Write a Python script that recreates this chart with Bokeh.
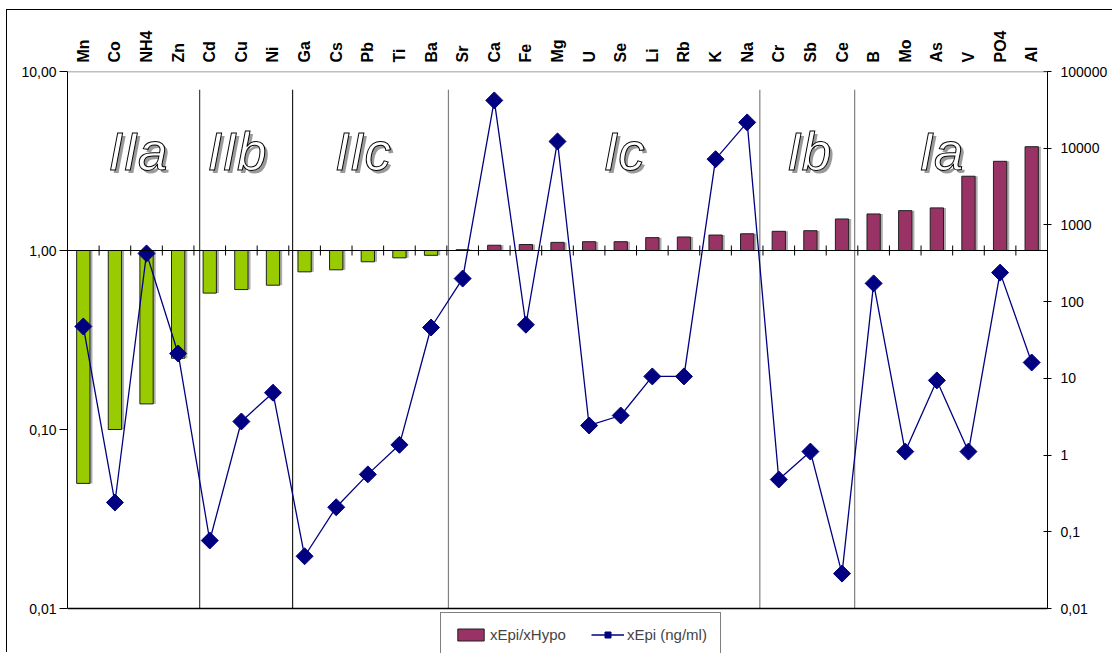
import math
from bokeh.plotting import figure
from bokeh.models import (Range1d, LogAxis, FixedTicker, LogScale, Span, Legend,
                          LegendItem, ColumnDataSource)
from bokeh.core.properties import value
from bokeh.embed import file_html
from bokeh.resources import INLINE

# ---------------- data ----------------
elements = ["Mn", "Co", "NH4", "Zn", "Cd", "Cu", "Ni", "Ga", "Cs", "Pb", "Ti", "Ba",
            "Sr", "Ca", "Fe", "Mg", "U", "Se", "Li", "Rb", "K", "Na", "Cr", "Sb", "Ce",
            "B", "Mo", "As", "V", "PO4", "Al"]
ratio_epi_hypo = [0.05, 0.10, 0.139, 0.25, 0.578, 0.605, 0.64, 0.76, 0.78, 0.865, 0.91, 0.94,
                  1.01, 1.07, 1.08, 1.11, 1.12, 1.12, 1.18, 1.19, 1.22, 1.24, 1.28, 1.29, 1.50,
                  1.60, 1.67, 1.73, 2.6, 3.15, 3.8]
epi_ng_ml = [47.5, 0.241, 425, 21.1, 0.077, 2.74, 6.5, 0.048, 0.209, 0.56, 1.36, 46,
             200, 42000, 50, 12250, 2.43, 3.28, 10.6, 10.6, 7200, 21700, 0.48, 1.11, 0.0285,
             173, 1.11, 9.4, 1.11, 239, 16.1]
groups = ["IIa", "IIb", "IIc", "Ic", "Ib", "Ia"]
group_sizes = [4, 3, 5, 10, 3, 6]

left_ticks = [0.01, 0.1, 1, 10]
left_labels = ["0,01", "0,10", "1,00", "10,00"]
right_ticks = [0.01, 0.1, 1, 10, 100, 1000, 10000, 100000]
right_labels = ["0,01", "0,1", "1", "10", "100", "1000", "10000", "100000"]

# ---------------- layout constants (annotation placement) ----------------
divider_pos = [4.18, 7.12, 12.05, 21.9, 24.9]
divider_col = ["#404040", "#202020", "#808080", "#808080", "#808080"]
group_label_x = [2.23, 5.36, 9.35, 17.61, 23.46, 27.64]
FONT = "Liberation Sans"
PX_PER_DEC_L = 179.0      # left axis pixels per decade
PX_PER_DEC_R = 537.0 / 7  # right axis pixels per decade
LEGEND_SPACE = 45         # px below the value axis kept for the legend

n = len(elements)
xc = [i + 0.5 for i in range(n)]
GREEN, MAROON, NAVY = "#99CC00", "#993366", "#000080"
colors = [GREEN if r < 1 else MAROON for r in ratio_epi_hypo]

src = ColumnDataSource(dict(x=xc, top=ratio_epi_hypo, color=colors, epi=epi_ng_ml))

ymin_l = left_ticks[0] * 10 ** (-LEGEND_SPACE / PX_PER_DEC_L)
ymin_r = right_ticks[0] * 10 ** (-LEGEND_SPACE / PX_PER_DEC_R)

p = figure(width=1106, height=643, x_range=Range1d(0, n), y_range=Range1d(ymin_l, left_ticks[-1]),
           y_axis_type="log", x_axis_location="above", output_backend="svg",
           toolbar_location=None, min_border_left=60, min_border_right=66,
           min_border_top=61, min_border_bottom=0)
p.styles = {"margin-left": "6px", "margin-top": "9px",
            "border-left": "1px solid black", "border-top": "1px solid black"}
p.xgrid.visible = False
p.ygrid.visible = False
p.outline_line_color = None
p.background_fill_color = "white"
p.border_fill_color = "white"

# top category axis
xa = p.xaxis[0]
xa.ticker = FixedTicker(ticks=xc)
xa.major_label_overrides = {x: e for x, e in zip(xc, elements)}
xa.major_label_orientation = "vertical"
xa.axis_line_color = None
xa.major_tick_line_color = None
xa.minor_tick_line_color = None
xa.major_tick_out = 0
xa.major_tick_in = 0
xa.major_label_standoff = 9
xa.major_label_text_font = FONT
xa.major_label_text_font_style = "bold"
xa.major_label_text_font_size = "16px"
xa.major_label_text_color = "black"

# left axis
ya = p.yaxis[0]
ya.ticker = FixedTicker(ticks=left_ticks)
ya.bounds = (left_ticks[0], left_ticks[-1])
ya.major_label_overrides = {t: l for t, l in zip(left_ticks, left_labels)}
ya.minor_tick_line_color = None
ya.major_tick_in = 0
ya.major_tick_out = 8
ya.major_label_standoff = 3
ya.axis_line_color = "black"
ya.major_tick_line_color = "black"
ya.major_label_text_font = FONT
ya.major_label_text_font_size = "14px"
ya.major_label_text_color = "black"

# right axis
p.extra_y_ranges = {"r": Range1d(ymin_r, right_ticks[-1])}
p.extra_y_scales = {"r": LogScale()}
ra = LogAxis(y_range_name="r", ticker=FixedTicker(ticks=right_ticks))
ra.bounds = (right_ticks[0], right_ticks[-1])
ra.major_label_overrides = {t: l for t, l in zip(right_ticks, right_labels)}
ra.minor_tick_line_color = None
ra.major_tick_in = 4
ra.major_tick_out = 4
ra.major_label_standoff = 9
ra.axis_line_color = "black"
ra.major_tick_line_color = "black"
ra.major_label_text_font = FONT
ra.major_label_text_font_size = "14px"
ra.major_label_text_color = "black"
p.add_layout(ra, "right")

# plot-area top and bottom edges
p.add_layout(Span(location=left_ticks[-1], dimension="width", line_color="#808080", line_width=1.5))
p.add_layout(Span(location=left_ticks[0], dimension="width", line_color="black", line_width=1.5))

# group dividers
p.segment(x0=divider_pos, y0=[left_ticks[0]] * len(divider_pos), x1=divider_pos,
          y1=[7.9] * len(divider_pos), line_color=divider_col, line_width=1.2)

# bars (shadow + bars)
p.vbar(x=[x + 0.08 for x in xc], width=0.42, bottom=1, top=ratio_epi_hypo,
       fill_color="#9a9a9a", line_color=None, fill_alpha=0.8)
bars = p.vbar(x="x", width=0.42, bottom=1, top="top", fill_color="color",
              line_color="#202020", line_width=1, source=src)

# category axis line at 1 with crossing ticks
p.add_layout(Span(location=1, dimension="width", line_color="black", line_width=1))
bounds = list(range(1, n))
tk = 10 ** (5 / PX_PER_DEC_L)
p.segment(x0=bounds, y0=[1 / tk] * len(bounds), x1=bounds, y1=[tk] * len(bounds),
          line_color="black", line_width=1)

# group labels
gy = [3.56] * len(groups)
p.text(x=group_label_x, y=gy, text=groups, text_font=value(FONT), text_font_style="italic",
       text_font_size="53px", text_align="center", text_baseline="alphabetic",
       text_color="#9a9a9a", x_offset=3, y_offset=3)
p.text(x=group_label_x, y=gy, text=groups, text_font=value(FONT), text_font_style="italic",
       text_font_size="53px", text_align="center", text_baseline="alphabetic",
       text_color="white", text_outline_color="black")

# line with diamonds (right axis)
ln = p.line(x="x", y="epi", source=src, y_range_name="r", line_color=NAVY, line_width=1.3)
mk = p.scatter(x="x", y="epi", source=src, y_range_name="r", marker="square", size=12,
               angle=math.pi / 4, fill_color=NAVY, line_color=NAVY)

legend = Legend(items=[LegendItem(label="xEpi/xHypo", renderers=[bars], index=n - 1),
                       LegendItem(label="xEpi (ng/ml)", renderers=[ln, mk])],
                orientation="horizontal", location=(373, -4), padding=13, spacing=25,
                label_standoff=3, glyph_width=33, glyph_height=15, label_height=17,
                label_text_font=FONT, label_text_font_size="15px",
                border_line_color="black", border_line_width=1, margin=0)
p.add_layout(legend, "center")

open("out.html", "w").write(file_html(p, INLINE))
